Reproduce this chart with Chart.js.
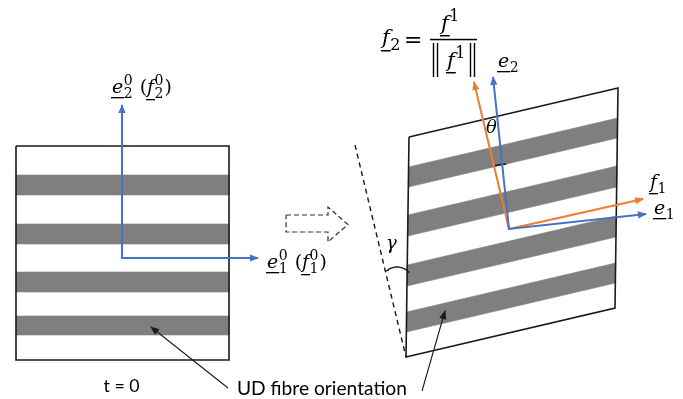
<!DOCTYPE html>
<html>
<head>
<meta charset="utf-8">
<script src="https://cdn.jsdelivr.net/npm/chart.js@4.4.1/dist/chart.umd.min.js"></script>
<style>
  html, body { margin: 0; padding: 0; background: #fff; }
  #wrap { position: relative; width: 683px; height: 399px; }
</style>
</head>
<body>
<div id="wrap"><canvas id="c"></canvas></div>
<script>
// ---- Geometry of the ply sketch (drawing units, y grows downward) ----

// Undeformed ply at t = 0
const squareCorners = [[16, 146], [229, 146], [229, 360], [16, 360]];
const squareBands = [[175, 195], [224, 244], [272, 292], [316, 335]];   // top/bottom of each fibre band

// Sheared ply: top-left, top-right, bottom-right, bottom-left
const shearCorners = [[409, 137], [618, 88], [615, 308], [406, 357]];
const shearBands = [[167, 187], [215, 236], [265, 286], [312, 332]];    // band spans where they meet the left edge

// Base vectors
const baseOrigin = [122, 258];
const e1Tip0 = [258, 258];
const e2Tip0 = [122, 105];
const defOrigin = [509, 229];
const e1Tip = [646, 214];
const e2Tip = [493, 77];
const f1Tip = [643, 199];
const f2Tip = [474, 82];

// Reference line for the shear angle, transition arrow and pointer arrows
const shearRefLine = [[355, 145], [406, 357]];
const transitionArrow = [[286, 215], [328, 215], [328, 207], [348, 224.5], [328, 242], [328, 232], [286, 232], [286, 215]];
const pointerLeft = [[228, 388], [151, 327]];
const pointerRight = [[422, 391], [445, 311]];

// Angle marks: centre, radius, start and end angle in degrees
const gammaArc = { c: [397, 283], r: 16, a0: -132, a1: -40 };
const thetaArc = { c: defOrigin, r: 65, a0: -104, a1: -93 };

// ---- Styling ----
const BLUE = '#4472C4';
const ORANGE = '#ED7D31';
const GREY = '#7f7f7f';
const INK = '#1a1a1a';
const MATH = '"DejaVu Serif", "Liberation Serif", serif';
const SANS = 'Lato, "Open Sans", sans-serif';

const toPts = pts => pts.map(([x, y]) => ({ x, y }));

function lineSet(pts, color, width, order, extra = {}) {
  return Object.assign({
    data: toPts(pts), showLine: true, borderColor: color, borderWidth: width,
    pointRadius: 0, fill: false, tension: 0, order,
    borderJoinStyle: 'miter', borderCapStyle: 'butt'
  }, extra);
}

function polySet(pts, color, order) {
  const closed = pts.concat([pts[0]]);
  return {
    data: toPts(closed), showLine: true, borderColor: color, borderWidth: 0.6,
    backgroundColor: color, fill: 'shape', pointRadius: 0, tension: 0, order
  };
}

function arcPoints(arc) {
  const out = [];
  const n = 24;
  for (let i = 0; i <= n; i++) {
    const a = (arc.a0 + (arc.a1 - arc.a0) * i / n) * Math.PI / 180;
    out.push([arc.c[0] + arc.r * Math.cos(a), arc.c[1] + arc.r * Math.sin(a)]);
  }
  return out;
}

// Point on the sheared left edge at height y, and the edge vector across the ply
const [sTL, sTR, sBR, sBL] = shearCorners;
function leftEdgeAt(y) {
  const t = (sBL[1] - y) / (sBL[1] - sTL[1]);
  return [sBL[0] + t * (sTL[0] - sBL[0]), y];
}
const across = [sBR[0] - sBL[0], sBR[1] - sBL[1]];

const datasets = [];

squareBands.forEach(([y0, y1]) => {
  const xl = squareCorners[0][0], xr = squareCorners[1][0];
  datasets.push(polySet([[xl, y0], [xr, y0], [xr, y1], [xl, y1]], GREY, 50));
});

shearBands.forEach(([y0, y1]) => {
  const a = leftEdgeAt(y0), b = leftEdgeAt(y1);
  datasets.push(polySet([a, [a[0] + across[0], a[1] + across[1]], [b[0] + across[0], b[1] + across[1]], b], GREY, 50));
});

datasets.push(lineSet(squareCorners.concat([squareCorners[0]]), INK, 1.6, 40));
datasets.push(lineSet(shearCorners.concat([shearCorners[0]]), INK, 1.6, 40));
datasets.push(lineSet(shearRefLine, INK, 1.4, 40, { borderDash: [5, 4] }));
datasets.push(lineSet(transitionArrow, '#333333', 1.2, 40, { borderDash: [5, 3] }));
datasets.push(lineSet(arcPoints(gammaArc), INK, 1.4, 30));
datasets.push(lineSet(arcPoints(thetaArc), INK, 1.6, 30));

datasets.push(lineSet([f2Tip, defOrigin, f1Tip], ORANGE, 2, 20, { arrow: { start: true, end: true } }));
datasets.push(lineSet([e2Tip, defOrigin, e1Tip], BLUE, 2, 10, { arrow: { start: true, end: true } }));
datasets.push(lineSet([e2Tip0, baseOrigin, e1Tip0], BLUE, 2, 10, { arrow: { start: true, end: true } }));
datasets.push(lineSet(pointerLeft, INK, 1.1, 5, { arrow: { end: true } }));
datasets.push(lineSet(pointerRight, INK, 1.1, 5, { arrow: { end: true } }));

// Arrowheads at the ends of flagged polylines
const arrowHeads = {
  id: 'arrowHeads',
  afterDatasetsDraw(chart) {
    const ctx = chart.ctx;
    chart.data.datasets.forEach((ds, i) => {
      if (!ds.arrow) return;
      const el = chart.getDatasetMeta(i).data;
      const head = (tip, from) => {
        const ang = Math.atan2(tip.y - from.y, tip.x - from.x);
        const len = 8, half = 3.6;
        ctx.beginPath();
        ctx.moveTo(tip.x + Math.cos(ang) * 1, tip.y + Math.sin(ang) * 1);
        ctx.lineTo(tip.x - Math.cos(ang) * len - Math.sin(ang) * half, tip.y - Math.sin(ang) * len + Math.cos(ang) * half);
        ctx.lineTo(tip.x - Math.cos(ang) * len + Math.sin(ang) * half, tip.y - Math.sin(ang) * len - Math.cos(ang) * half);
        ctx.closePath();
        ctx.fill();
      };
      ctx.save();
      ctx.fillStyle = ds.borderColor;
      if (ds.arrow.end) head(el[el.length - 1], el[el.length - 2]);
      if (ds.arrow.start) head(el[0], el[1]);
      ctx.restore();
    });
  }
};

// Small maths typesetter: underlined italic vectors with sub/superscripts
function drawMath(ctx, x, y, size, parts, ulOffset) {
  let cx = x;
  const sc = Math.round(size * 0.74);
  for (const p of parts) {
    if (p.gap) { cx += p.gap; continue; }
    if (p.v) {
      ctx.font = `italic ${size}px ${MATH}`;
      const w = ctx.measureText(p.v).width;
      ctx.fillText(p.v, cx, y);
      const off = p.v === 'f' ? ulOffset + 2 : ulOffset;
      ctx.fillRect(cx - 1, y + off, w + 2, Math.max(1.3, size * 0.07));
      cx += w;
    } else if (p.t) {
      ctx.font = `${p.it ? 'italic ' : ''}${size}px ${MATH}`;
      ctx.fillText(p.t, cx, y);
      cx += ctx.measureText(p.t).width;
    } else {
      ctx.font = `${sc}px ${MATH}`;
      let w = 0;
      if (p.s) { ctx.fillText(p.s, cx + 0.5, y + size * 0.27); w = Math.max(w, ctx.measureText(p.s).width); }
      if (p.p) { ctx.fillText(p.p, cx + 0.5, y - size * 0.42); w = Math.max(w, ctx.measureText(p.p).width); }
      cx += w + 1.5;
    }
  }
  return cx;
}

function fitText(ctx, text, x, y, width, family) {
  ctx.font = `20px ${family}`;
  const size = 20 * width / ctx.measureText(text).width;
  ctx.font = `${size}px ${family}`;
  ctx.fillText(text, x, y);
}

const labels = {
  id: 'labels',
  afterDraw(chart) {
    const ctx = chart.ctx;
    const sx = v => chart.scales.x.getPixelForValue(v);
    const sy = v => chart.scales.y.getPixelForValue(v);
    ctx.save();
    ctx.fillStyle = '#000';
    ctx.textBaseline = 'alphabetic';

    // Initial frame
    drawMath(ctx, sx(112), sy(93), 19, [{ v: 'e' }, { s: '2', p: '0' }, { gap: 6 }, { t: '(' }, { v: 'f' }, { s: '2', p: '0' }, { t: ')' }], 4);
    drawMath(ctx, sx(267), sy(268), 19, [{ v: 'e' }, { s: '1', p: '0' }, { gap: 6 }, { t: '(' }, { v: 'f' }, { s: '1', p: '0' }, { t: ')' }], 4);

    // Current frame
    drawMath(ctx, sx(498), sy(67), 19, [{ v: 'e' }, { s: '2' }], 4);
    drawMath(ctx, sx(654), sy(214), 19, [{ v: 'e' }, { s: '1' }], 4);
    drawMath(ctx, sx(650), sy(188), 19, [{ v: 'f' }, { s: '1' }], 3);

    // f2 = f1 / ||f1||
    drawMath(ctx, sx(382), sy(44), 21, [{ v: 'f' }, { s: '2' }], 4);
    ctx.font = `22px ${MATH}`;
    ctx.fillText('=', sx(404), sy(47));
    ctx.fillRect(sx(430), sy(38.8), sx(477) - sx(430), 1.5);
    drawMath(ctx, sx(441), sy(30), 21, [{ v: 'f' }, { p: '1' }], 3);
    drawMath(ctx, sx(447), sy(67), 21, [{ v: 'f' }, { p: '1' }], 3);
    [433.5, 437.5, 470.5, 474.5].forEach(bx => ctx.fillRect(sx(bx) - 0.7, sy(43), 1.4, sy(77) - sy(43)));

    // Angles
    ctx.font = `italic 18px ${MATH}`;
    ctx.fillText('\u03B8', sx(486), sy(133));
    ctx.fillText('\u03B3', sx(386), sy(249));

    // Captions
    fitText(ctx, 't = 0', sx(103.5), sy(391.5), 36, SANS);
    fitText(ctx, 'UD fibre orientation', sx(237), sy(395), 170, SANS);
    ctx.restore();
  }
};

new Chart(document.getElementById('c'), {
  type: 'scatter',
  data: { datasets },
  options: {
    responsive: true,
    maintainAspectRatio: false,
    animation: false,
    events: [],
    layout: { padding: 0 },
    scales: {
      x: { type: 'linear', min: 0, max: 683, display: false },
      y: { type: 'linear', min: 0, max: 399, reverse: true, display: false }
    },
    plugins: { legend: { display: false }, tooltip: { enabled: false } }
  },
  plugins: [arrowHeads, labels]
});
</script>
</body>
</html>
